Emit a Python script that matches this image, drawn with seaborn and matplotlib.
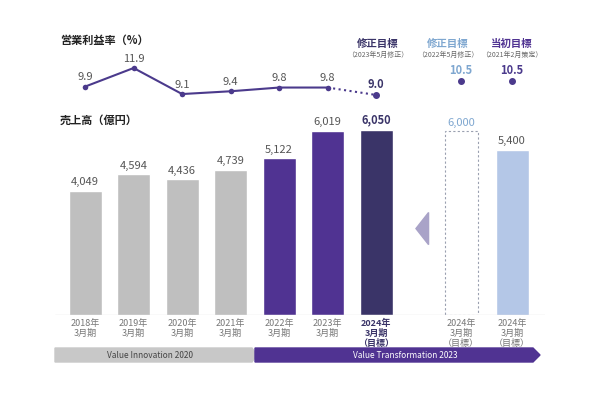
import matplotlib
matplotlib.use("Agg")
import matplotlib.pyplot as plt
import seaborn as sns
import pandas as pd
from matplotlib.patches import Polygon

sns.set_theme(style="white")
plt.rcParams['font.family'] = ['Noto Sans CJK JP', 'DejaVu Sans']

positions = [0, 1, 2, 3, 4, 5, 6, 7.75, 8.8]
sales = [4049, 4594, 4436, 4739, 5122, 6019, 6050, 6000, 5400]
sales_labels = ["4,049", "4,594", "4,436", "4,739", "5,122", "6,019", "6,050", "6,000", "5,400"]
bar_colors = ["#bfbfbf"] * 4 + ["#503392", "#503392", "#3a3468", "#ffffff", "#b4c7e7"]
tick_labels = ["2018年\n3月期", "2019年\n3月期", "2020年\n3月期", "2021年\n3月期",
               "2022年\n3月期", "2023年\n3月期", "2024年\n3月期\n（目標）",
               "2024年\n3月期\n（目標）", "2024年\n3月期\n（目標）"]
margin_x = [0, 1, 2, 3, 4, 5]
margin = [9.9, 11.9, 9.1, 9.4, 9.8, 9.8]
target_margin = 9.0
alt_targets = [10.5, 10.5]
purple = "#4b3a8c"

fig = plt.figure(figsize=(6, 4), dpi=100)
fig.patch.set_facecolor("white")

# bars
ax = fig.add_axes([55/600, 85/400, 490/600, 205/400])
df = pd.DataFrame({"pos": positions, "sales": sales, "k": [str(i) for i in range(9)]})
sns.barplot(data=df, x="pos", y="sales", hue="k", palette=bar_colors, native_scale=True,
            width=0.68, legend=False, ax=ax, saturation=1)
bar6000 = ax.patches[7]
bar6000.set_edgecolor("#9aa0b0"); bar6000.set_linestyle((0, (2, 2))); bar6000.set_linewidth(0.8)
ax.set_xlim(-0.62, 9.48); ax.set_ylim(0, 6700)
ax.axis("off")
ax.axhline(0, color="#999999", lw=0.8)
for i, (p, v, l) in enumerate(zip(positions, sales, sales_labels)):
    col = "#555555"
    w = "normal"
    if i == 6: col, w = "#3a3468", "bold"
    if i == 7: col = "#7fa7d0"
    ax.text(p, v + 120, l, ha="center", va="bottom", fontsize=8, color=col, weight=w)
for i, (p, t) in enumerate(zip(positions, tick_labels)):
    ax.text(p, -120, t, ha="center", va="top", fontsize=6.5, color="#3a3468" if i == 6 else "#777777",
            weight="bold" if i == 6 else "normal", linespacing=1.15)
ax.add_patch(Polygon([[7.08, 2300], [7.08, 3350], [6.82, 2825]], closed=True,
                     color="#a9a3c8", clip_on=False))

# margin line
lx = fig.add_axes([55/600, 300/400, 490/600, 45/400])
lx.set_xlim(-0.62, 9.48); lx.set_ylim(8.46, 13.3)
lx.axis("off")
sns.lineplot(x=margin_x, y=margin, color=purple, marker="o", markersize=4,
             markeredgewidth=0, lw=1.5, ax=lx)
lx.plot([5, 6], [margin[-1], target_margin], color=purple, ls=":", lw=1.5)
lx.plot([6], [target_margin], "o", color=purple, ms=4)
for x, v in zip(margin_x, margin):
    lx.text(x, v + 0.45, f"{v}", ha="center", va="bottom", fontsize=8, color="#555555")
lx.text(6, target_margin + 0.45, "9.0", ha="center", va="bottom", fontsize=8, color="#3a3468", weight="bold")
alt_cols = ["#7fa7d0", purple]
for x, v, c in zip([7.75, 8.8], alt_targets, alt_cols):
    lx.plot([x], [v], "o", color=purple, ms=4)
    lx.text(x, v + 0.45, f"{v}", ha="center", va="bottom", fontsize=8, color=c, weight="bold")

# headers
fig.text(60/600, 1 - 40/400, "営業利益率（%）", fontsize=8, weight="bold", va="center", color="#222222")
fig.text(60/600, 1 - 120/400, "売上高（億円）", fontsize=8, weight="bold", va="center", color="#222222")
for x, t1, t2, c in [(378, "修正目標", "（2023年5月修正）", "#3a3468"),
                     (448, "修正目標", "（2022年5月修正）", "#7fa7d0"),
                     (512, "当初目標", "（2021年2月策定）", "#503392")]:
    fig.text(x/600, 1 - 44/400, t1, fontsize=7.5, weight="bold", ha="center", va="center", color=c)
    fig.text(x/600, 1 - 55/400, t2, fontsize=5, ha="center", va="center", color="#666666")

# program banners
fig.patches.append(Polygon([[55/600, 1-348/400], [252/600, 1-348/400], [257/600, 1-355/400],
                            [252/600, 1-362/400], [55/600, 1-362/400]],
                           closed=True, transform=fig.transFigure, color="#c8c8c8"))
fig.patches.append(Polygon([[255/600, 1-348/400], [533/600, 1-348/400], [540/600, 1-355/400],
                            [533/600, 1-362/400], [255/600, 1-362/400]],
                           closed=True, transform=fig.transFigure, color="#503392"))
fig.text(150/600, 1 - 355/400, "Value Innovation 2020", fontsize=6, ha="center", va="center", color="#444444")
fig.text(405/600, 1 - 355/400, "Value Transformation 2023", fontsize=6, ha="center", va="center", color="white")

fig.savefig("out.png", dpi=100)
